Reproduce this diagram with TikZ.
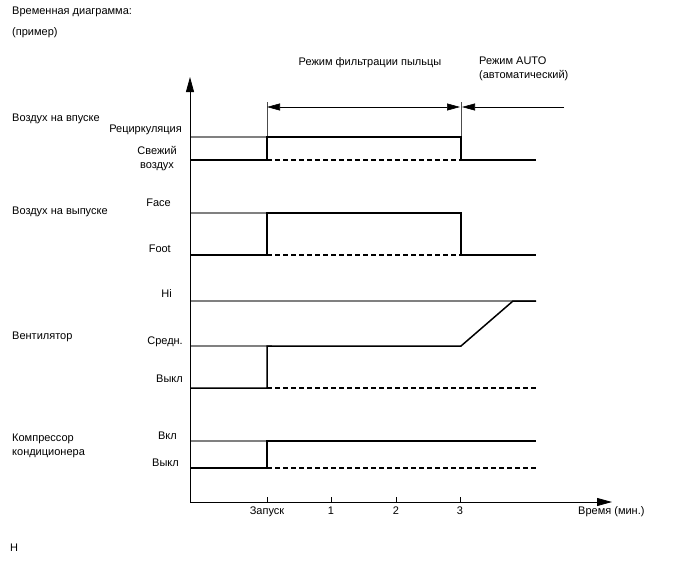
\documentclass[tikz,border=0pt]{standalone}
\usepackage{fontspec}
\setmainfont{Liberation Sans}
\usetikzlibrary{arrows.meta}

\begin{document}
\begin{tikzpicture}[x=1pt,y=-1pt,
    font=\fontsize{11}{14}\selectfont,
    axis/.style={line width=0.8pt,-{Triangle[length=15pt,width=8pt]}},
    sig/.style={line width=1.5pt,black},
    lvl/.style={line width=1.4pt,gray},
    idle/.style={line width=1.3pt,dash pattern=on 5pt off 3pt},
    guide/.style={line width=0.6pt,black!70},
    modearr/.style={line width=0.6pt,{Triangle[length=13pt,width=7pt]}-{Triangle[length=13pt,width=7pt]}},
    autoarr/.style={line width=0.6pt,-{Triangle[length=13pt,width=7pt]}},
    txt/.style={inner sep=0pt}]
    \useasboundingbox (0,0) rectangle (688,560);

    % Title
    \node[txt,anchor=west] (title) at (12,12) {Временная диаграмма:};
    \node[txt,anchor=west] (sample) at (12,33) {(пример)};

    % Modes
    \node[txt] (pollen) at (370,63) {Режим фильтрации пыльцы};
    \node[txt,anchor=north west,align=left] (auto) at (479,57) {Режим AUTO\\(автоматический)};
    \coordinate (pstart) at (267,107);
    \coordinate (pend) at (460,107);
    \coordinate (astart) at (462,107);
    \coordinate (atail) at (564,107);
    \draw[guide] (267,102) -- (267,137);
    \draw[guide] (461,102) -- (461,137);
    \draw[modearr] (pstart) -- (pend);
    \draw[autoarr] (atail) -- (astart);

    % Intake air
    \node[txt,anchor=west] (intake) at (12,119) {Воздух на впуске};
    \node[txt,anchor=east] (recirc) at (182,130) {Рециркуляция};
    \node[txt,align=center] (fresh) at (157,159) {Свежий\\воздух};
    \draw[lvl] (190,137) -- (272,137);
    \draw[idle] (267,160) -- (461,160);
    \draw[sig] (190,160) -- (267,160) -- (267,137) -- (461,137) -- (461,160) -- (536,160);

    % Outlet air
    \node[txt,anchor=west] (outlet) at (12,212) {Воздух на выпуске};
    \node[txt,anchor=east] (face) at (171,203) {Face};
    \node[txt,anchor=east] (foot) at (171,249) {Foot};
    \draw[lvl] (190,213) -- (272,213);
    \draw[idle] (267,255) -- (461,255);
    \draw[sig] (190,255) -- (267,255) -- (267,213) -- (461,213) -- (461,255) -- (536,255);

    % Blower
    \node[txt,anchor=west] (blower) at (12,337) {Вентилятор};
    \node[txt,anchor=east] (hi) at (172,294) {Hi};
    \node[txt,anchor=east] (mid) at (183,342) {Средн.};
    \node[txt,anchor=east] (fanoff) at (183,379) {Выкл};
    \draw[lvl] (190,301) -- (536,301);
    \draw[lvl] (190,346) -- (272,346);
    \draw[idle] (267,388) -- (536,388);
    \draw[sig] (190,388) -- (267,388) -- (267,346) -- (461,346) -- (513,301) -- (536,301);

    % Compressor
    \node[txt,anchor=north west,align=left] (comp) at (12,434) {Компрессор\\кондиционера};
    \node[txt,anchor=east] (on) at (177,436) {Вкл};
    \node[txt,anchor=east] (off) at (179,463) {Выкл};
    \draw[lvl] (190,441) -- (272,441);
    \draw[idle] (267,468) -- (536,468);
    \draw[sig] (190,468) -- (267,468) -- (267,441) -- (536,441);

    % Axes
    \draw[axis] (190,502) -- (190,77);
    \draw[axis] (190,502) -- (612,502);
    \foreach \x/\t in {267/Запуск,331/1,396/2,460/3} {
        \draw[line width=0.6pt] (\x,502) -- (\x,497);
        \node[txt,anchor=north] (tick\x) at (\x,507) {\t};
    }
    \node[txt,anchor=west] (time) at (578,512) {Время (мин.)};

    % Note
    \node[txt,anchor=west] (code) at (10,548) {H};
\end{tikzpicture}
\end{document}
